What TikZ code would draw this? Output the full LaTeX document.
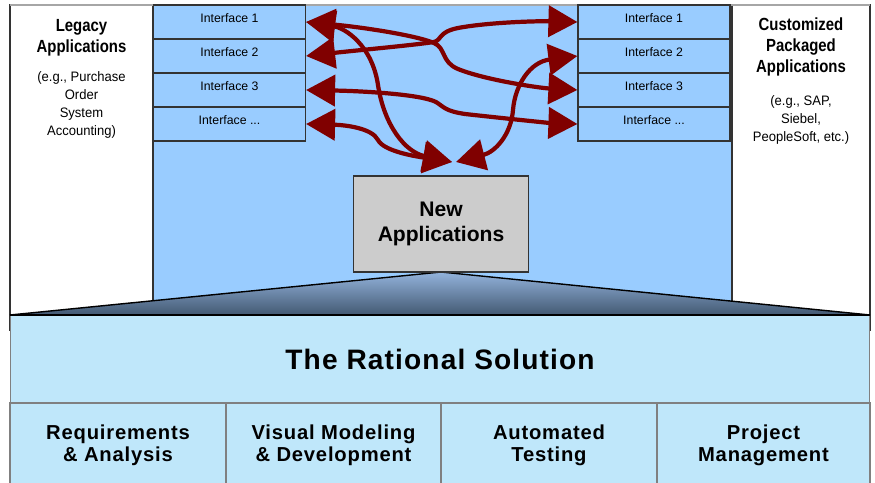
\documentclass[tikz,border=0pt]{standalone}
\usepackage{fontspec}
\setmainfont{Liberation Sans}
\newfontfamily\narrowfont[FakeStretch=0.85]{Liberation Sans}
\newfontfamily\notefont[FakeStretch=0.95]{Liberation Sans}
\newfontfamily\spacedfont[LetterSpace=4]{Liberation Sans}
\usetikzlibrary{arrows.meta}
\definecolor{paneblue}{HTML}{99CCFF}
\definecolor{baseblue}{HTML}{BFE7FA}
\definecolor{linkred}{HTML}{800000}
\definecolor{newgray}{HTML}{CCCCCC}
\definecolor{rimgray}{HTML}{333333}
\definecolor{wedgetop}{HTML}{93B3DC}
\definecolor{wedgebottom}{HTML}{435972}

\begin{document}
\begin{tikzpicture}[x=0.02cm,y=-0.02cm,
	iface/.style={draw=rimgray,line width=0.7pt,fill=paneblue,minimum width=3.04cm,minimum height=0.68cm,inner sep=0pt,font=\fontsize{7}{8}\selectfont,text height=0.18cm,text depth=0.17cm},
	sidehead/.style={align=center,inner sep=0pt,font=\narrowfont\bfseries\fontsize{10}{12.2}\selectfont},
	sidenote/.style={align=center,inner sep=0pt,font=\notefont\fontsize{7.8}{10.2}\selectfont},
	newbox/.style={draw=rimgray,line width=0.7pt,fill=newgray,minimum width=3.5cm,minimum height=1.92cm,align=center,font=\bfseries\fontsize{12}{14.7}\selectfont},
	band/.style={draw=gray,line width=0.6pt,fill=baseblue,minimum height=1.74cm,font=\spacedfont\bfseries\fontsize{16}{18}\selectfont},
	cell/.style={draw=gray,line width=0.6pt,fill=baseblue,minimum height=1.68cm,align=center,font=\spacedfont\bfseries\fontsize{11.5}{12.5}\selectfont},
	link/.style={<->,>={Triangle[length=0.58cm,width=0.62cm]},line width=2.4pt,draw=linkred}]
	\clip (0,0) rectangle (875,483);
	% panes behind the interfaces
	\draw[rimgray,line width=0.8pt,fill=white] (10,5) rectangle (153,330);
	\draw[rimgray,line width=0.8pt,fill=paneblue] (153,5) rectangle (732,330);
	\draw[rimgray,line width=0.8pt,fill=white] (732,5) rectangle (870,330);
	\draw[gray!70,line width=1pt] (10,5) -- (870,5);
	\node[sidehead] (legacyhead)at(81.5,37.5) {Legacy\\Applications};
	\node[sidenote] (legacynote)at(81.5,105) {(e.g., Purchase\\Order\\System\\Accounting)};
	\node[sidehead] (packhead)at(801,47) {Customized\\Packaged\\Applications};
	\node[sidenote] (packnote)at(801,120) {(e.g., SAP,\\Siebel,\\PeopleSoft, etc.)};
	\node[iface] (L1)at(229.5,22) {Interface 1};
	\node[iface] (L2)at(229.5,56) {Interface 2};
	\node[iface] (L3)at(229.5,90) {Interface 3};
	\node[iface] (L4)at(229.5,124) {Interface ...};
	\node[iface] (R1)at(654,22) {Interface 1};
	\node[iface] (R2)at(654,56) {Interface 2};
	\node[iface] (R3)at(654,90) {Interface 3};
	\node[iface] (R4)at(654,124) {Interface ...};
	% wedge down to the base
	\shade[top color=wedgetop,bottom color=wedgebottom] (10,315) -- (441,272) -- (870,315) -- cycle;
	\draw[line width=0.8pt] (10,315) -- (441,272) -- (870,315);
	\node[newbox] (newapp)at(441,224) {New\\Applications};
	\node[band,minimum width=17.2cm] (rational)at(440,359) {The Rational Solution};
	\draw[line width=1.6pt] (rational.north west) -- (rational.north east);
	\node[cell,minimum width=4.32cm] (req)at(118,445) {Requirements\\\& Analysis};
	\node[cell,minimum width=4.3cm] (vis)at(333.5,445) {Visual Modeling\\\& Development};
	\node[cell,minimum width=4.32cm] (auto)at(549,445) {Automated\\Testing};
	\node[cell,minimum width=4.26cm] (proj)at(763.5,445) {Project\\Management};
	% links
	\coordinate (tipA) at (452,162);
	\coordinate (tipB) at (456,162);
	\draw[link] (L1.east) .. controls (360,27) and (415,35) .. (434,43) .. controls (446,48) and (441,62) .. (458,69) .. controls (485,80) and (540,88) .. (R3.west);
	\draw[link] (L2.east) .. controls (360,50) and (415,45) .. (434,42) .. controls (442,40) and (438,32) .. (458,28) .. controls (490,22) and (540,21) .. (R1.west);
	\draw[link] (L3.east) .. controls (360,91) and (420,94) .. (436,102) .. controls (444,107) and (445,111) .. (465,114) .. controls (510,119) and (550,123) .. (R4.west);
	\draw[link] (L1.east) .. controls (345,28) and (372,45) .. (378,85) .. controls (384,125) and (405,152) .. (tipA);
	\draw[link] (L4.east) .. controls (345,125) and (372,128) .. (378,140) .. controls (384,152) and (420,157) .. (tipA);
	\draw[link] (R2.west) .. controls (530,62) and (515,85) .. (513,110) .. controls (511,135) and (495,152) .. (tipB);
\end{tikzpicture}
\end{document}
